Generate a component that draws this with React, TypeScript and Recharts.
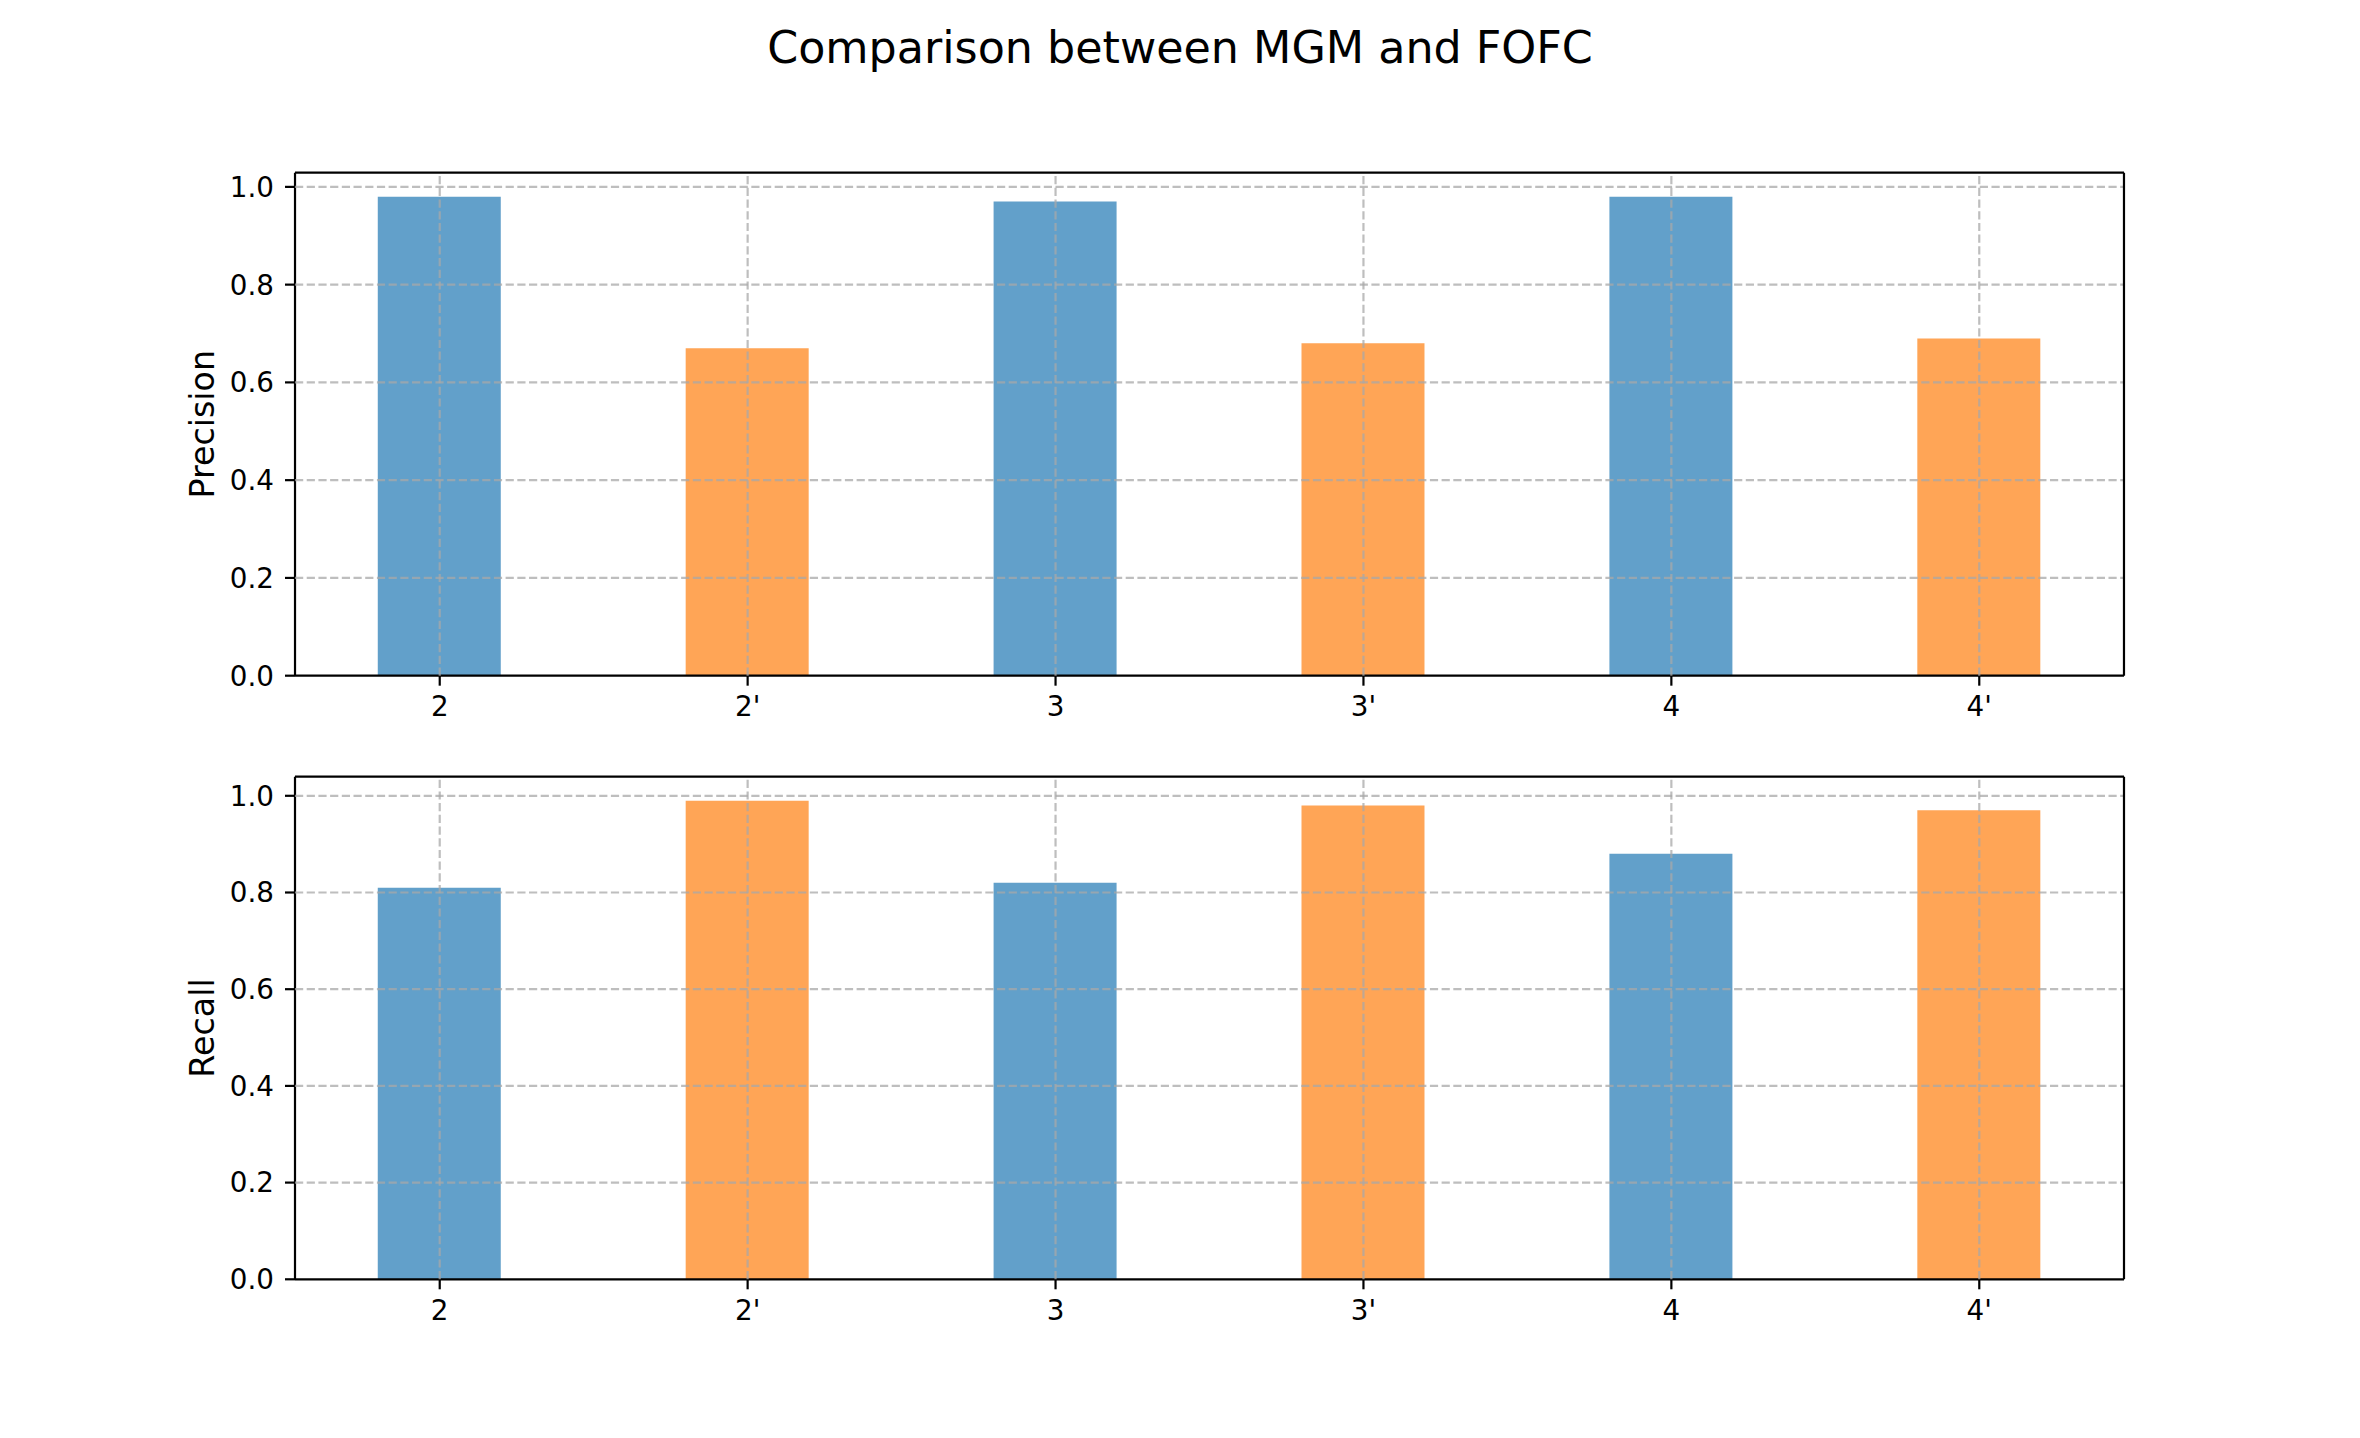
import React from 'react'
import { BarChart, Bar, Cell, XAxis, YAxis, ReferenceLine } from 'recharts'

// values
const categories = ['2', "2'", '3', "3'", '4', "4'"]
const methods = ['MGM', 'FOFC', 'MGM', 'FOFC', 'MGM', 'FOFC']
const precision = [0.98, 0.67, 0.97, 0.68, 0.98, 0.69]
const recall = [0.81, 0.99, 0.82, 0.98, 0.88, 0.97]
const yTicks = [0, 0.2, 0.4, 0.6, 0.8, 1.0]
const xTicks = categories.map((_, i) => i)

const COLORS: Record<string, string> = { MGM: '#1f77b4', FOFC: '#ff7f0e' }
const FONT = '"DejaVu Sans", sans-serif'
const W = 2360
const H = 1438
const X_DOMAIN: [number, number] = [-0.47, 5.47]

interface PanelProps {
  values: number[]
  label: string
  plotTop: number
  plotBottom: number
  yMax: number
}

function Panel({ values, label, plotTop, plotBottom, yMax }: PanelProps) {
  const data = values.map((v, i) => ({ x: i, value: v, method: methods[i] }))
  const height = plotBottom + 80
  const margin = { top: plotTop, right: 236, bottom: height - plotBottom - 60, left: 195 }
  const grid = { stroke: '#a8a8a8', strokeOpacity: 0.75, strokeWidth: 2.2, strokeDasharray: '8.2 3.5' }
  const spine = { stroke: '#000', strokeWidth: 2.2 }
  const tick = { fill: '#000', fontSize: 27.8, fontFamily: FONT }

  const axes = (visible: boolean) => [
    <XAxis
      key="x"
      type="number"
      dataKey="x"
      domain={X_DOMAIN}
      ticks={xTicks}
      allowDataOverflow
      tickFormatter={(i: number) => categories[i]}
      height={60}
      tickSize={10}
      tickMargin={11}
      axisLine={visible ? spine : false}
      tickLine={visible ? spine : false}
      tick={visible ? tick : false}
    />,
    <YAxis
      key="y"
      type="number"
      domain={[0, yMax]}
      ticks={yTicks}
      allowDataOverflow
      tickFormatter={(v: number) => v.toFixed(1)}
      width={100}
      tickSize={10}
      tickMargin={11}
      axisLine={visible ? spine : false}
      tickLine={visible ? spine : false}
      tick={visible ? tick : false}
    />,
  ]

  return (
    <div style={{ position: 'absolute', left: 0, top: 0 }}>
      <BarChart width={W} height={height} data={data} margin={margin}>
        {axes(true)}
        <Bar dataKey="value" barSize={123} isAnimationActive={false}>
          {data.map((d) => (
            <Cell key={d.x} fill={COLORS[d.method]} fillOpacity={0.7} />
          ))}
        </Bar>
      </BarChart>
      {/* overlay so the dashed grid sits above the translucent bars */}
      <div style={{ position: 'absolute', left: 0, top: 0, pointerEvents: 'none' }}>
        <BarChart width={W} height={height} data={data} margin={margin}>
          {axes(false)}
          {yTicks.slice(1).map((t) => (
            <ReferenceLine key={'y' + t} y={t} {...grid} />
          ))}
          {xTicks.map((t) => (
            <ReferenceLine key={'x' + t} x={t} {...grid} />
          ))}
          <ReferenceLine y={yMax} {...spine} />
          <ReferenceLine x={X_DOMAIN[1]} {...spine} />
        </BarChart>
      </div>
      <svg width={W} height={height} style={{ position: 'absolute', left: 0, top: 0, pointerEvents: 'none' }}>
        <text
          x={214}
          y={(plotTop + plotBottom) / 2}
          transform={`rotate(-90 214 ${(plotTop + plotBottom) / 2})`}
          textAnchor="middle"
          fontFamily={FONT}
          fontSize={33.3}
          fill="#000"
        >
          {label}
        </text>
      </svg>
    </div>
  )
}

export default function App() {
  return (
    <div style={{ position: 'absolute', left: 0, top: 0, width: W, height: H, background: '#fff' }}>
      <svg width={W} height={100} style={{ position: 'absolute', left: 0, top: 0 }}>
        <text x={1180} y={63} textAnchor="middle" fontFamily={FONT} fontSize={44.4} fill="#000">
          Comparison between MGM and FOFC
        </text>
      </svg>
      <Panel values={precision} label="Precision" plotTop={172.7} plotBottom={675.7} yMax={1.029} />
      <Panel values={recall} label="Recall" plotTop={776.7} plotBottom={1279.3} yMax={1.0395} />
    </div>
  )
}
